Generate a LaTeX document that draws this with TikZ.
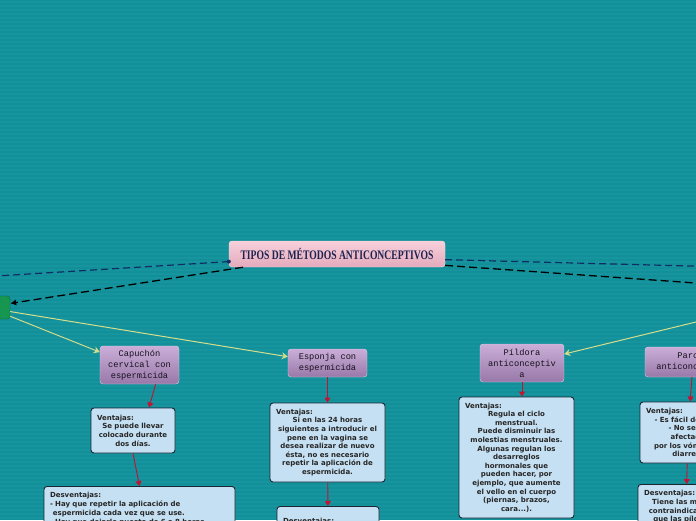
\documentclass[tikz,border=0pt]{standalone}
\usepackage{fontspec}
\usepackage{graphicx}
\usetikzlibrary{arrows.meta}

\newfontfamily\boxfont{DejaVu Sans}
\newfontfamily\pnodefont{Liberation Mono}
\newfontfamily\titlefont{Liberation Serif}

\definecolor{bgteal}{RGB}{18,143,152}
\definecolor{stripeteal}{RGB}{22,149,158}
\definecolor{pinktop}{RGB}{247,208,219}
\definecolor{pinkbot}{RGB}{228,170,188}
\definecolor{titlenavy}{RGB}{30,35,80}
\definecolor{ptop}{RGB}{202,174,216}
\definecolor{pbot}{RGB}{152,120,168}
\definecolor{ptext}{RGB}{25,18,30}
\definecolor{boxblue}{RGB}{197,224,242}
\definecolor{boxedge}{RGB}{25,38,50}
\definecolor{linkred}{RGB}{196,18,52}
\definecolor{linkyellow}{RGB}{214,222,140}
\definecolor{linknavy}{RGB}{18,45,100}
\definecolor{leafgreen}{RGB}{22,150,80}

\tikzset{
  maintitle/.style={draw=pinktop!70!white, rounded corners=3pt, top color=pinktop, bottom color=pinkbot,
    minimum width=216pt, minimum height=26pt, inner sep=2pt, text=titlenavy,
    font=\titlefont\bfseries\fontsize{13}{14}\selectfont},
  subtopic/.style={draw=ptop!60!white, rounded corners=3pt, top color=ptop, bottom color=pbot,
    align=center, inner sep=2pt, text=ptext, font=\pnodefont\fontsize{8.7}{11}\selectfont},
  infobox/.style={draw=boxedge, line width=0.9pt, fill=boxblue, rounded corners=3pt,
    inner xsep=6pt, inner ysep=4pt, text=black!85,
    font=\boxfont\bfseries\fontsize{7}{8.6}\selectfont},
  leafnode/.style={draw=leafgreen!70!black, fill=leafgreen, rounded corners=3pt,
    minimum width=30pt, minimum height=23pt},
  redlink/.style={draw=linkred, line width=0.9pt, -{Triangle[width=6pt,length=5pt]}},
  yellowlink/.style={draw=linkyellow, line width=1pt, -{Stealth[width=7pt,length=6pt]}},
  navydash/.style={draw=linknavy, line width=1.2pt, dash pattern=on 7pt off 4pt},
  blackdash/.style={draw=black, line width=1.3pt, dash pattern=on 8pt off 4pt}
}

\begin{document}
\begin{tikzpicture}[x=1pt,y=-1pt]
% page and background
\useasboundingbox (0,0) rectangle (696,520);
\clip (0,0) rectangle (696,520);
\fill[bgteal] (0,0) rectangle (696,520);
\foreach \s in {2,6,...,518}
  \draw[stripeteal, line width=1.2pt] (0,\s) -- (696,\s);

% central topic
\node[maintitle] (tipos) at (337,254)
  {\scalebox{0.74}[1]{TIPOS DE MÉTODOS ANTICONCEPTIVOS}};

% left leaf and loose ends
\node[leafnode] (izq) at (-5,307.5) {};
\coordinate (salidaizq) at (-20,277);
\coordinate (salidader) at (710,266.5);
\coordinate (salidader2) at (710,284);
\coordinate (entradader) at (710,318.6);

\draw[navydash] (tipos.184) -- (salidaizq);
\fill[linknavy] (tipos.184) circle (2);
\draw[blackdash, -{Latex[length=6pt,width=6pt]}] (tipos.188) -- (izq.15);
\draw[navydash] (tipos.357) -- (salidader);
\draw[blackdash] (tipos.354) -- (salidader2);

% methods
\node[subtopic, minimum width=79pt, minimum height=38pt] (capuchon) at (139.5,365)
  {Capuchón\\cervical con\\espermicida};
\node[subtopic, minimum width=79pt, minimum height=28pt] (esponja) at (327.5,363)
  {Esponja con\\espermicida};
\node[subtopic, minimum width=84pt, minimum height=38pt] (pildora) at (522,363)
  {Píldora\\anticonceptiv\\a};
\node[subtopic, minimum width=96pt, minimum height=30pt] (parche) at (693,362)
  {Parche\\anticonceptivo};

\draw[yellowlink] (izq.-15) -- (esponja.171);
\draw[yellowlink] (izq.-30) -- (capuchon.162);
\draw[yellowlink] (entradader) -- (pildora.12);

% Capuchon
\node[infobox, text width=72pt, minimum height=45pt, align=center] (capV) at (133,430.5)
  {\makebox[\hsize][l]{Ventajas:}\\Se puede llevar\\colocado durante\\dos días.};
\node[infobox, text width=179pt, minimum height=45pt, align=left, anchor=north,
  font=\boxfont\bfseries\fontsize{7}{9.2}\selectfont] (capD) at (139.5,486)
  {Desventajas:\\- Hay que repetir la aplicación de\\\phantom{-}espermicida cada vez que se use.\\- Hay que dejarlo puesto de 6 a 8 horas.};
\draw[redlink] (capuchon.-50) -- (capV.55);
\draw[redlink] (capV.south) -- (capD.north);

% Esponja
\node[infobox, text width=103pt, minimum height=79pt, align=center] (espV) at (327.5,442.5)
  {\makebox[\hsize][l]{Ventajas:}\\Si en las 24 horas\\siguientes a introducir el\\pene en la vagina se\\desea realizar de nuevo\\ésta, no es necesario\\repetir la aplicación de\\espermicida.};
\node[infobox, text width=90pt, minimum height=30pt, align=left, anchor=north] (espD) at (328,506)
  {Desventajas:\\[12pt]};
\draw[redlink] (esponja) -- (espV);
\draw[redlink] (espV) -- (espD);

% Pildora
\node[infobox, text width=103pt, minimum height=121pt, align=center] (pilV) at (516.5,457.5)
  {\makebox[\hsize][l]{Ventajas:}\\Regula el ciclo\\menstrual.\\Puede disminuir las\\molestias menstruales.\\Algunas regulan los\\desarreglos\\hormonales que\\pueden hacer, por\\ejemplo, que aumente\\el vello en el cuerpo\\(piernas, brazos,\\cara...).};
\draw[redlink] (pildora.south) -- (pildora.south |- pilV.north);

% Parche
\node[infobox, text width=84pt, minimum height=61pt, align=center] (parV) at (688,432.5)
  {\makebox[\hsize][l]{Ventajas:}\\- Es fácil de usar.\\- No se ve\\afectado\\por los vómitos o\\diarrea.};
\node[infobox, text width=84pt, minimum height=45pt, align=center, anchor=north] (parD) at (686,484)
  {\makebox[\hsize][l]{Desventajas:}\\Tiene las mismas\\contraindicaciones\\que las píldoras.};
\draw[redlink] (parche) -- (parV);
\draw[redlink] (parV) -- (parD);
\end{tikzpicture}
\end{document}
